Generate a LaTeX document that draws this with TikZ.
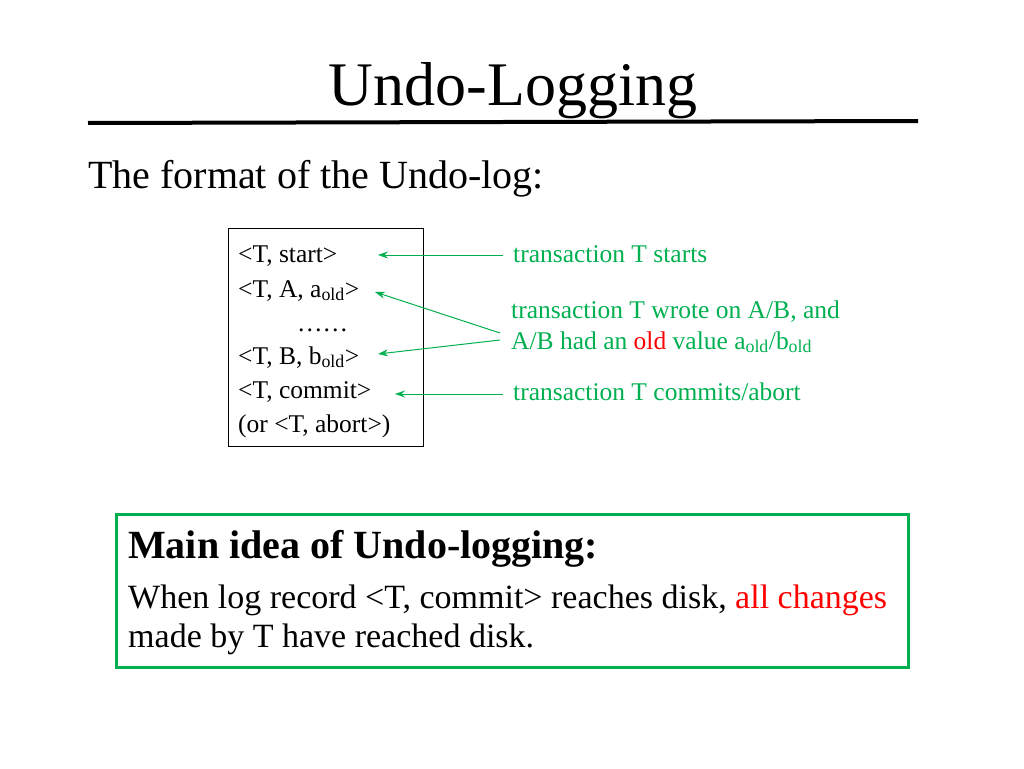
\documentclass[tikz,border=0pt]{standalone}
\usepackage{fontspec}
\setmainfont{Liberation Serif}
\usetikzlibrary{arrows.meta}
\definecolor{grn}{RGB}{0,176,80}
\begin{document}
\begin{tikzpicture}[x=1pt,y=-1pt,
  lt/.style={anchor=base west,inner sep=0pt,font=\fontsize{25.5}{28}\selectfont},
  gt/.style={lt,text=grn},
  arr/.style={grn,line width=1pt,-{Stealth[length=10pt,width=7pt]}}]
\useasboundingbox (0,0) rectangle (1024,768);
\node[anchor=base,inner sep=0pt,font=\fontsize{62}{66}\selectfont] (title) at (513,105) {Undo-Logging};
\draw[line width=4pt] (88,123) -- (918,121);
\node[anchor=base west,inner sep=0pt,font=\fontsize{40}{44}\selectfont] (fmt) at (88,188) {The format of the Undo-log:};
\draw[line width=0.8pt] (228,228) rectangle (423,446);
\node[lt] (l1) at (238,262) {<T, start>};
\node[lt] (l2) at (238,297) {<T, A, a\textsubscript{old}>};
\node[lt] (l3) at (297,331) {……};
\node[lt] (l4) at (238,364) {<T, B, b\textsubscript{old}>};
\node[lt] (l5) at (238,398) {<T, commit>};
\node[lt] (l6) at (238,432) {(or <T, abort>)};
\node[gt] (g1) at (513,262) {transaction T starts};
\node[gt] (g2) at (511,318) {transaction T wrote on A/B, and};
\node[gt] (g3) at (511,349) {A/B had an \textcolor{red}{old} value a\textsubscript{old}/b\textsubscript{old}};
\node[gt] (g4) at (513,400) {transaction T commits/abort};
\coordinate (c1) at (503,255); \coordinate (e1) at (378,255);
\coordinate (c2) at (500,333); \coordinate (e2) at (375,292);
\coordinate (c3) at (500,340); \coordinate (e3) at (378,354);
\coordinate (c4) at (503,394); \coordinate (e4) at (395,394);
\draw[arr] (c1) -- (e1);
\draw[arr] (c2) -- (e2);
\draw[arr] (c3) -- (e3);
\draw[arr] (c4) -- (e4);
\draw[grn,line width=3pt] (116,514) rectangle (908,667);
\node[anchor=base west,inner sep=0pt,font=\fontsize{40}{44}\selectfont\bfseries] (m) at (128,558) {Main idea of Undo-logging:};
\node[anchor=base west,inner sep=0pt,font=\fontsize{34}{38}\selectfont] (m1) at (128,608) {When log record <T, commit> reaches disk, \textcolor{red}{all changes}};
\node[anchor=base west,inner sep=0pt,font=\fontsize{34}{38}\selectfont] (m2) at (128,647) {made by T have reached disk.};
\end{tikzpicture}
\end{document}
